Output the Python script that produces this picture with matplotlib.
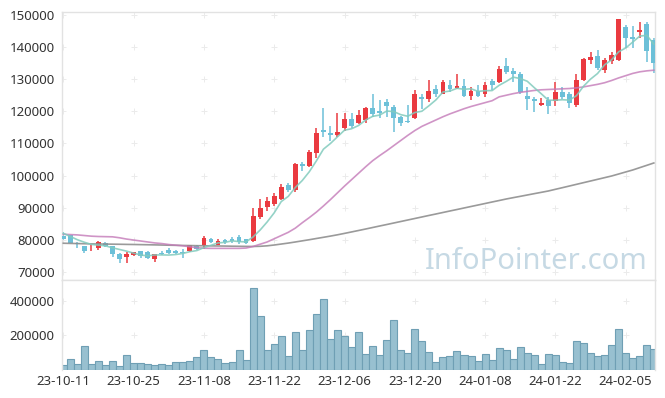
import matplotlib
matplotlib.use("Agg")
import matplotlib.pyplot as plt
import numpy as np

dates = ["23-10-11","23-10-12","23-10-13","23-10-16","23-10-17","23-10-18","23-10-19","23-10-20",
         "23-10-23","23-10-24","23-10-25","23-10-26","23-10-27","23-10-30","23-10-31","23-11-01",
         "23-11-02","23-11-03","23-11-06","23-11-07","23-11-08","23-11-09","23-11-10","23-11-13",
         "23-11-14","23-11-15","23-11-16","23-11-17","23-11-20","23-11-21","23-11-22","23-11-23",
         "23-11-24","23-11-27","23-11-28","23-11-29","23-11-30","23-12-01","23-12-04","23-12-05",
         "23-12-06","23-12-07","23-12-08","23-12-11","23-12-12","23-12-13","23-12-14","23-12-15",
         "23-12-18","23-12-19","23-12-20","23-12-21","23-12-22","23-12-26","23-12-27","23-12-28",
         "24-01-02","24-01-03","24-01-04","24-01-05","24-01-08","24-01-09","24-01-10","24-01-11",
         "24-01-12","24-01-15","24-01-16","24-01-17","24-01-18","24-01-19","24-01-22","24-01-23",
         "24-01-24","24-01-25","24-01-26","24-01-29","24-01-30","24-01-31","24-02-01","24-02-02",
         "24-02-05","24-02-06","24-02-07","24-02-08","24-02-13"]

opens = [81300,81400,79100,78000,77900,77400,79100,78000,75700,74700,
         75100,76400,76300,73900,76000,76800,76400,76100,76600,78000,
         78400,80200,78500,80000,80100,80900,80100,79700,87100,90300,
         91200,92700,97000,95400,103600,103100,107000,114200,113300,112700,
         114700,117600,116300,117300,121100,120100,122900,121400,118200,117000,
         118000,124400,123900,127000,125500,128100,127200,127900,124900,126400,
         125400,129400,129100,134100,132600,131600,124800,123700,122000,123400,
         123100,125900,125500,122000,129800,136000,137200,133000,135700,136000,
         146400,143200,144800,147300,142200]
highs = [82400,81600,79300,78100,78800,79500,79300,78100,75900,76100,
         76300,76600,76500,75700,76500,77300,76700,77100,78500,78500,
         81100,80600,80200,80300,80700,81500,80300,89800,92800,93400,
         94700,97400,97600,104000,104300,107900,114700,120900,115400,119600,
         119400,119600,120400,121400,125300,123500,123700,122100,118600,121900,
         126600,125300,129700,128200,129800,129800,131600,130000,127600,128100,
         129200,130100,134100,136500,133400,132100,127700,124600,124000,124600,
         129100,127500,126100,131500,136500,138600,139000,136500,138600,148800,
         146900,146700,147700,147700,142700]
lows = [79900,78900,77300,75800,76600,76900,77600,74700,72800,72700,
        74800,74300,74000,73200,75200,75400,75500,74400,76300,76900,
        77200,78900,78300,78800,78900,78700,78600,79300,86500,88800,
        90500,92400,95000,94900,101500,102700,105400,112100,110900,112100,
        113900,114700,116100,116300,118300,117800,118300,113700,115400,116400,
        117700,120700,123000,124600,125300,126100,126900,124500,123500,124600,
        124500,126600,128700,131600,129200,125500,120400,119900,121700,119200,
        121700,123900,120900,121400,129500,134600,132900,132000,134700,135800,
        139700,139800,142700,135300,131800]
closes = [80200,79100,78600,76600,78100,79200,77900,75600,74000,75500,
          76100,75000,74200,75500,75500,75900,75800,75900,78300,77200,
          80500,79400,79600,79200,79500,79400,78900,87400,89900,92100,
          93600,96400,95500,103700,103100,107300,113200,113700,112600,113500,
          117600,115400,118800,121100,119200,119600,121700,118000,116300,116700,
          125400,123700,126400,125500,129000,127000,127900,124900,126300,124900,
          128100,128100,133100,132300,131600,125900,123900,123100,122700,121700,
          125900,124600,122500,129700,136300,137000,133400,136000,137600,148700,
          142900,142600,145300,138900,135000]
volumes = [28300,61300,32200,136400,32200,49700,26600,49700,20800,84400,
           38100,38100,32200,26600,32200,26600,43900,43900,49700,72800,
           113300,72800,61300,38100,43900,113300,55500,471600,309800,113300,
           148000,194200,78600,217300,113300,228900,321400,408100,176900,228900,
           194200,130400,217300,90000,136400,84400,171000,286600,113300,95900,
           234600,165300,101700,43900,72800,78600,107500,84400,78600,49700,
           90000,55500,124800,113300,61300,130400,95900,84400,32200,90000,
           84400,43900,38100,165300,153700,95900,78600,84400,142200,234600,
           95900,67000,78600,142200,119100]
ma5 = [82000,81000,80000,79200,78520,78320,78080,77480,76960,76440,
       75820,75240,74960,75260,75260,75220,75380,75720,76280,76620,
       77540,78260,79000,79180,79640,79420,79320,80880,83020,85540,
       88380,91880,93500,96260,98460,101200,104560,108200,109980,112060,
       114120,114560,115580,117280,118420,118820,120080,119920,118960,118460,
       119620,120020,121700,123540,126000,126320,127160,126860,127020,126200,
       126420,126460,128100,129300,130640,130200,129360,127360,125440,123460,
       123460,123600,123480,124880,127800,130020,131780,134480,136060,138540,
       139720,141560,143420,143680,140940]
ma20 = [81700,81600,81500,81300,81100,81000,80950,80900,80600,80200,
        79900,79600,79300,79000,78800,78500,78300,78100,77800,77500,
        77350,77300,77300,77300,77300,77300,77400,77900,78600,79300,
        80300,81300,82300,83600,85300,86900,88600,90500,92500,94600,
        96700,98700,100700,102700,104600,106200,107700,109300,110900,112500,
        114000,115300,116300,117300,118300,119200,120000,120800,121500,122100,
        122700,123300,124500,125000,125500,125900,126200,126500,126700,126800,
        126900,127000,127100,127300,127600,128000,128400,128900,129600,130400,
        131100,131800,132300,132600,132800]
ma120 = [78900,78850,78800,78750,78700,78670,78640,78610,78580,78540,
         78510,78470,78430,78390,78340,78290,78250,78210,78180,78140,
         78110,78080,78050,78020,77980,77950,77920,77890,77950,78100,
         78350,78650,78950,79290,79650,80000,80380,80750,81130,81530,
         81970,82420,82870,83330,83800,84270,84730,85200,85670,86140,
         86610,87080,87550,88010,88480,88950,89410,89880,90350,90810,
         91280,91750,92210,92680,93100,93510,93930,94350,94760,95180,
         95700,96210,96730,97250,97770,98290,98810,99330,99850,100470,
         101100,101720,102450,103170,103900]

price_ticks = [70000,80000,90000,100000,110000,120000,130000,140000,150000]
vol_ticks = [200000,400000]
xtick_idx = [0,10,20,30,40,50,60,70,80]

plt.rcParams['font.family'] = ['Noto Sans', 'DejaVu Sans']

W, H = 665, 398
fig = plt.figure(figsize=(W/100, H/100), dpi=100)
L = 61.7 / W
R = 655 / W
ax = fig.add_axes([L, 1 - 280/H, R - L, (280 - 12.3)/H])
axv = fig.add_axes([L, 1 - 369.9/H, R - L, (369.9 - 280)/H], sharex=ax)

n = len(closes)
x = np.arange(n)
RED = '#ea3a40'
BLUE = '#6cc0d8'
o = np.array(opens); c = np.array(closes); h = np.array(highs); l = np.array(lows)
up = c >= o
cols = np.where(up, RED, BLUE)

gridc = '#ebebeb'
for a in (ax, axv):
    for s in a.spines.values():
        s.set_color('#e2e2e2')
        s.set_linewidth(1.0)
axv.spines['bottom'].set_visible(False)

# grid plus marks
gx, gy = np.meshgrid(xtick_idx, price_ticks)
ax.scatter(gx.ravel(), gy.ravel(), marker='+', s=16, color=gridc, linewidths=0.7, zorder=0)
gx2, gy2 = np.meshgrid(xtick_idx, vol_ticks)
axv.scatter(gx2.ravel(), gy2.ravel(), marker='+', s=16, color=gridc, linewidths=0.7, zorder=0)

ax.vlines(x, l, h, colors=cols, linewidth=1.1, zorder=2)
ax.bar(x, np.maximum(np.abs(c - o), 250), bottom=np.minimum(o, c), width=0.68,
       color=cols, edgecolor='none', zorder=3)

ax.plot(x, ma120, color='#8f8f8f', lw=1.2, alpha=0.9, zorder=4)
ax.plot(x, ma20, color='#c47ab8', lw=1.2, alpha=0.8, zorder=4)
ax.plot(x, ma5, color='#82cbbd', lw=1.2, alpha=0.85, zorder=4)

ax.text(0.988, 0.041, 'InfoPointer.com', transform=ax.transAxes, ha='right', va='baseline',
        fontsize=21, color='#c6d9e4', zorder=1)

ax.set_ylim(67450, 150840)
ax.set_yticks(price_ticks)
ax.set_yticklabels([str(v) for v in price_ticks])
ax.tick_params(axis='y', length=0, pad=5, labelsize=9.5, labelcolor='#333333')
ax.tick_params(axis='x', length=0, labelbottom=False)

axv.bar(x, volumes, width=1.0, color='#98c0d0', edgecolor='#6f9fb4', linewidth=0.8, zorder=2)
axv.set_ylim(0, 519700)
axv.set_yticks(vol_ticks)
axv.set_yticklabels([str(v) for v in vol_ticks])
axv.tick_params(axis='y', length=0, pad=5, labelsize=9.5, labelcolor='#333333')
axv.set_xticks(xtick_idx)
axv.set_xticklabels([dates[i] for i in xtick_idx])
axv.tick_params(axis='x', length=0, pad=4, labelsize=9.5, labelcolor='#333333')
ax.set_xlim(-0.23, 84.17)

fig.savefig('out.png', dpi=100)
